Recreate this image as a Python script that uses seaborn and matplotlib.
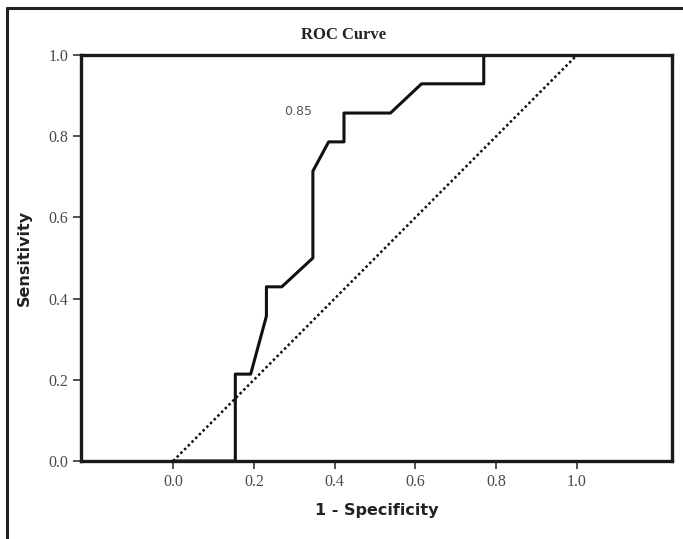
import numpy as np
import pandas as pd
import matplotlib
matplotlib.use('Agg')
import matplotlib.pyplot as plt
import seaborn as sns
from matplotlib.lines import Line2D

# ROC curve points
fpr = [0.0, 0.154, 0.154, 0.192, 0.231, 0.231, 0.269, 0.346, 0.346, 0.385,
       0.423, 0.423, 0.538, 0.615, 0.769, 0.769, 1.0]
tpr = [0.0, 0.0, 0.214, 0.214, 0.357, 0.429, 0.429, 0.5, 0.714, 0.786,
       0.786, 0.857, 0.857, 0.929, 0.929, 1.0, 1.0]
ref_line = [0.0, 1.0]
auc_label = '0.85'
ticks = [0.0, 0.2, 0.4, 0.6, 0.8, 1.0]

sns.set_style('white')

roc = pd.DataFrame({'fpr': fpr, 'tpr': tpr})
diag = pd.DataFrame({'x': ref_line, 'y': ref_line})

fig = plt.figure(figsize=(6.83, 5.39), dpi=100)
ax = fig.add_axes([0.1186, 0.1447, 0.8653, 0.7533])

sns.lineplot(data=roc, x='fpr', y='tpr', sort=False, estimator=None,
             color='#111111', linewidth=2.2, ax=ax)
sns.lineplot(data=diag, x='x', y='y', sort=False, estimator=None,
             color='#111111', linewidth=1.8, linestyle=(0, (1, 1.1)), ax=ax)

ax.text(0.31, 0.86, auc_label, fontsize=9, color='#555555',
        ha='center', va='center', family='DejaVu Sans')

ax.set_xlim(-0.228, 1.235)
ax.set_ylim(0, 1.0)
ax.set_xticks(ticks)
ax.set_yticks(ticks)
ax.set_xticklabels([f'{t:.1f}' for t in ticks], family='Liberation Serif',
                   fontsize=11.5, color='#4a4a4a')
ax.set_yticklabels([f'{t:.1f}' for t in ticks], family='Liberation Serif',
                   fontsize=11.5, color='#4a4a4a')
ax.tick_params(axis='both', direction='out', length=6, width=1.2,
               color='#333333', bottom=True, left=True, pad=3)

for s in ax.spines.values():
    s.set_linewidth(2.4)
    s.set_color('#1a1a1a')
    s.set_visible(True)

ax.text(0.445, 1.03, 'ROC Curve', transform=ax.transAxes, family='Liberation Serif',
        fontweight='bold', fontsize=12, ha='center', va='bottom', color='#222222')
ax.set_xlabel('1 - Specificity', family='DejaVu Sans',
              fontweight='bold', fontsize=11.5, labelpad=10, color='#222222')
ax.set_ylabel('Sensitivity', family='DejaVu Sans',
              fontweight='bold', fontsize=11.5, labelpad=12, color='#222222')
ax.grid(False)

# outer frame (left and top edges only, as in the source image)
fig.add_artist(Line2D([0.0105, 0.0105], [0.0, 0.985], transform=fig.transFigure,
                      color='#222222', linewidth=2.2))
fig.add_artist(Line2D([0.0105, 1.0], [0.985, 0.985], transform=fig.transFigure,
                      color='#222222', linewidth=2.2))

fig.savefig('out.png', dpi=100)
